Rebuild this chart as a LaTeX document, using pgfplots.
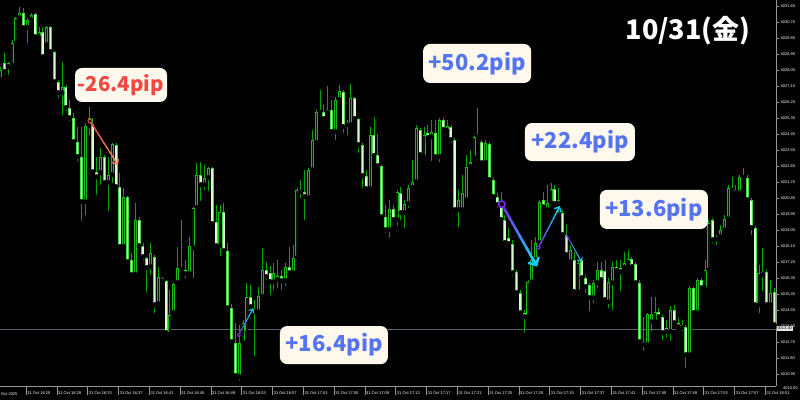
\documentclass[border=0pt]{standalone}
\usepackage{pgfplots}
\pgfplotsset{compat=1.18}
\usepackage{pgfplotstable}
\usepackage{fontspec}
\setmainfont{Liberation Sans}
\newfontfamily\cjk{Noto Sans CJK JP}
\usetikzlibrary{calc,arrows.meta}
\definecolor{wick}{RGB}{0,165,0}
\definecolor{bullline}{RGB}{25,185,25}
\definecolor{bullfill}{RGB}{0,28,0}
\definecolor{bearline}{RGB}{70,215,70}
\definecolor{bearfill}{RGB}{215,255,205}
\definecolor{pipred}{RGB}{242,72,68}
\definecolor{piporange}{RGB}{250,135,90}
\definecolor{pipblue}{RGB}{84,116,240}
\definecolor{boxfill}{RGB}{255,248,236}
\definecolor{apurple}{RGB}{120,40,220}
\definecolor{acyan}{RGB}{25,200,240}
\definecolor{framec}{RGB}{150,150,150}
\definecolor{bidline}{RGB}{90,95,110}

\pgfplotstableread{
k o h l c
0 4027.44 4028.17 4027.33 4028.00
1 4028.40 4028.96 4027.61 4027.89
2 4028.17 4028.45 4027.61 4028.40
3 4028.28 4029.69 4028.17 4029.52
4 4029.52 4030.98 4029.41 4030.93
5 4030.93 4031.55 4030.82 4031.21
6 4031.21 4031.49 4030.25 4030.37
7 4030.37 4030.93 4029.41 4030.82
8 4030.82 4031.21 4030.70 4031.10
9 4031.15 4031.21 4029.80 4029.86
10 4029.80 4030.42 4029.58 4030.14
11 4030.14 4030.42 4028.68 4028.73
12 4029.41 4030.45 4029.30 4030.42
13 4030.42 4030.45 4028.96 4029.02
14 4029.02 4029.05 4027.05 4027.33
15 4027.33 4027.44 4026.32 4026.71
16 4026.71 4028.45 4025.36 4027.05
17 4027.05 4027.16 4025.58 4025.87
18 4025.87 4026.32 4025.02 4025.30
19 4025.30 4025.58 4023.90 4023.95
20 4023.95 4024.80 4022.77 4023.11
21 4023.11 4024.80 4019.40 4020.58
22 4020.58 4025.02 4019.73 4024.85
23 4024.85 4025.92 4024.23 4025.30
24 4024.97 4025.30 4022.10 4022.26
25 4022.26 4023.11 4020.86 4021.98
26 4022.21 4023.62 4021.42 4023.11
27 4023.11 4023.22 4021.53 4021.65
28 4021.65 4023.11 4019.96 4022.10
29 4022.10 4023.90 4021.53 4023.84
30 4023.78 4023.90 4021.37 4021.42
31 4021.42 4022.21 4017.99 4018.05
32 4018.05 4021.37 4017.99 4020.86
33 4020.86 4020.90 4017.09 4017.20
34 4017.32 4017.71 4016.41 4016.47
35 4016.47 4020.52 4016.41 4019.57
36 4019.57 4019.73 4018.05 4018.10
37 4018.10 4018.27 4017.20 4017.48
38 4017.43 4017.48 4015.35 4016.87
39 4016.92 4018.27 4016.36 4017.71
40 4017.48 4017.60 4014.22 4014.78
41 4014.84 4016.92 4014.67 4016.36
42 4016.30 4016.36 4016.08 4016.13
43 4016.13 4016.19 4013.10 4013.21
44 4013.15 4015.63 4013.10 4014.22
45 4014.33 4016.02 4014.22 4015.97
46 4016.02 4018.05 4015.80 4016.87
47 4016.87 4019.57 4016.58 4016.75
48 4016.75 4017.32 4016.19 4016.53
49 4016.53 4018.61 4016.47 4018.10
50 4017.99 4020.29 4016.19 4020.24
51 4020.24 4022.77 4020.13 4022.10
52 4022.10 4022.83 4020.52 4021.53
53 4021.53 4022.66 4021.14 4021.93
54 4021.93 4022.55 4021.08 4022.49
55 4022.49 4022.55 4019.28 4019.34
56 4019.45 4020.41 4018.05 4018.10
57 4018.10 4020.41 4017.43 4020.02
58 4020.02 4020.52 4017.77 4017.82
59 4017.82 4018.27 4014.56 4014.61
60 4014.61 4014.84 4012.65 4012.70
61 4012.65 4013.77 4010.74 4010.79
62 4010.74 4013.66 4010.45 4012.65
63 4012.65 4013.94 4012.53 4013.77
64 4013.21 4016.02 4013.10 4015.24
65 4015.24 4015.91 4014.39 4014.67
66 4014.39 4015.07 4011.80 4014.56
67 4014.39 4015.80 4014.28 4015.29
68 4015.24 4017.99 4015.18 4016.75
69 4016.75 4017.20 4016.08 4016.36
70 4016.58 4016.98 4015.24 4016.08
71 4016.08 4017.15 4015.52 4016.58
72 4016.19 4017.32 4015.63 4016.41
73 4016.41 4016.75 4015.52 4016.13
74 4016.13 4017.15 4015.74 4016.92
75 4016.92 4018.05 4016.47 4016.58
76 4016.58 4018.16 4016.47 4017.43
77 4017.43 4021.37 4017.32 4021.25
78 4021.25 4021.82 4020.69 4021.14
79 4021.14 4022.38 4019.45 4020.86
80 4020.80 4022.49 4020.69 4022.38
81 4022.38 4024.63 4022.26 4024.07
82 4023.90 4025.75 4023.78 4025.64
83 4025.64 4026.88 4025.58 4025.70
84 4025.64 4026.03 4025.19 4025.25
85 4025.58 4027.10 4025.47 4025.75
86 4025.75 4026.32 4024.46 4024.52
87 4024.52 4026.49 4023.95 4026.32
88 4026.32 4027.16 4026.15 4026.82
89 4026.77 4026.88 4024.35 4024.80
90 4025.02 4025.19 4024.23 4024.91
91 4024.91 4027.22 4024.80 4026.43
92 4026.43 4026.49 4025.19 4025.25
93 4025.25 4025.30 4023.22 4023.78
94 4023.78 4023.90 4021.25 4022.04
95 4022.04 4022.38 4021.25 4021.31
96 4021.31 4024.80 4021.25 4024.35
97 4024.35 4025.36 4022.94 4023.17
98 4023.22 4024.40 4022.55 4022.60
99 4022.60 4022.66 4019.68 4019.73
100 4019.73 4020.41 4018.72 4019.00
101 4019.00 4020.69 4018.44 4020.18
102 4020.18 4020.41 4019.45 4019.57
103 4019.57 4021.25 4019.12 4021.14
104 4021.08 4021.42 4019.45 4019.96
105 4019.96 4020.69 4019.00 4020.47
106 4020.47 4021.53 4020.13 4021.37
107 4021.37 4022.94 4021.25 4021.70
108 4021.70 4024.91 4021.53 4024.74
109 4024.63 4024.74 4023.05 4023.22
110 4023.11 4024.80 4022.94 4024.35
111 4024.46 4024.91 4024.07 4024.18
112 4024.23 4025.19 4022.77 4024.52
113 4024.46 4025.19 4022.94 4023.11
114 4023.11 4025.30 4022.71 4025.19
115 4025.19 4025.30 4024.52 4024.63
116 4024.57 4025.19 4024.35 4024.85
117 4024.80 4024.91 4023.78 4024.07
118 4024.07 4024.18 4020.02 4020.13
119 4020.13 4021.25 4019.06 4020.69
120 4020.13 4022.10 4020.02 4021.08
121 4020.69 4023.22 4020.58 4022.55
122 4022.55 4023.50 4022.38 4022.83
123 4023.05 4024.29 4022.94 4024.23
124 4024.23 4025.87 4024.07 4024.35
125 4023.95 4024.07 4022.66 4022.77
126 4022.77 4024.07 4022.66 4023.90
127 4023.84 4023.95 4021.70 4021.82
128 4021.82 4021.93 4020.69 4020.86
129 4020.86 4021.08 4020.13 4020.41
130 4020.29 4021.14 4019.45 4019.57
131 4019.57 4019.85 4018.16 4018.27
132 4018.55 4019.12 4018.10 4018.22
133 4018.22 4018.44 4016.30 4016.58
134 4016.64 4016.75 4015.35 4015.46
135 4015.46 4015.63 4014.22 4014.33
136 4014.33 4014.50 4013.10 4014.11
137 4014.11 4016.19 4014.05 4016.08
138 4016.08 4018.44 4015.97 4017.32
139 4017.32 4018.61 4017.20 4018.27
140 4018.27 4020.69 4018.16 4020.58
141 4020.69 4021.14 4020.13 4020.29
142 4020.13 4021.53 4019.85 4020.52
143 4020.52 4021.65 4020.41 4021.31
144 4021.31 4021.53 4020.35 4020.47
145 4020.47 4021.37 4019.85 4020.69
146 4019.96 4020.13 4018.61 4018.72
147 4018.72 4019.28 4017.48 4017.60
148 4017.20 4018.16 4017.03 4017.88
149 4017.32 4017.77 4015.46 4015.52
150 4015.52 4017.32 4015.35 4017.15
151 4017.32 4017.43 4016.19 4016.30
152 4016.30 4016.47 4015.35 4015.80
153 4015.91 4016.02 4014.33 4015.18
154 4015.18 4016.19 4014.78 4016.02
155 4016.02 4017.20 4015.63 4016.75
156 4016.75 4017.20 4016.02 4016.19
157 4016.70 4017.32 4014.89 4015.07
158 4014.95 4016.30 4014.50 4016.08
159 4016.02 4017.20 4014.39 4016.92
160 4016.92 4017.32 4016.58 4016.70
161 4016.87 4017.32 4015.46 4016.64
162 4016.87 4017.77 4016.75 4017.15
163 4017.15 4017.88 4016.98 4017.37
164 4017.37 4017.48 4016.81 4016.92
165 4017.09 4017.20 4015.91 4016.02
166 4016.02 4016.19 4012.53 4012.70
167 4012.70 4014.11 4012.08 4012.53
168 4012.53 4014.33 4012.42 4014.28
169 4013.83 4015.24 4013.21 4014.28
170 4013.83 4015.24 4013.66 4014.39
171 4014.39 4014.61 4013.94 4014.11
172 4014.11 4014.22 4012.70 4013.21
173 4013.49 4013.94 4012.82 4013.27
174 4013.27 4014.73 4012.65 4014.50
175 4014.50 4014.78 4013.66 4013.77
176 4013.77 4014.05 4013.38 4013.55
177 4013.66 4013.94 4013.21 4013.49
178 4013.55 4013.66 4011.13 4011.97
179 4011.97 4015.85 4011.86 4015.74
180 4015.74 4015.80 4014.22 4014.33
181 4014.33 4016.30 4014.22 4016.19
182 4016.19 4016.30 4015.63 4015.74
183 4015.69 4017.32 4015.57 4016.75
184 4016.75 4019.57 4016.64 4019.40
185 4019.57 4019.68 4018.16 4018.44
186 4018.61 4018.72 4018.05 4018.50
187 4018.61 4019.28 4018.44 4019.00
188 4019.00 4019.85 4018.89 4019.62
189 4019.62 4021.53 4019.57 4021.37
190 4021.25 4021.98 4021.14 4021.31
191 4021.25 4021.53 4020.97 4021.08
192 4021.08 4022.10 4020.97 4021.98
193 4021.98 4022.49 4021.93 4022.04
194 4021.93 4022.10 4020.58 4020.69
195 4020.69 4020.80 4018.61 4019.12
196 4019.12 4019.23 4014.67 4014.78
197 4014.78 4017.03 4014.22 4016.58
198 4016.47 4017.99 4015.46 4016.64
199 4016.64 4016.75 4014.67 4014.78
200 4014.78 4016.19 4014.50 4015.46
201 4015.52 4015.74 4013.55 4013.66
}\candles

\newcommand\gradarrow[7]{%
  \foreach \i in {0,...,8}{%
    \pgfmathsetmacro\ta{\i/10}%
    \pgfmathsetmacro\tb{(\i+1)/10+0.02}%
    \pgfmathtruncatemacro\pc{100-\i*12.5}%
    \draw[line width=#3, color=#4!\pc!#5, line cap=round] ($(#1)!\ta!(#2)$) -- ($(#1)!\tb!(#2)$);
  }%
  \draw[line width=#3, color=#5, -{Straight Barb[length=#6,width=#7]}] ($(#1)!0.85!(#2)$) -- (#2);
}

\begin{document}
\begin{tikzpicture}[x=1pt,y=1pt]
\useasboundingbox (0,0) rectangle (800,400);
\fill[black] (0,0) rectangle (800,400);
\begin{axis}[
  at={(0pt,14pt)}, anchor=south west,
  scale only axis, width=776pt, height=386pt,
  xmin=-0.13, xmax=201.43, ymin=4010.2275, ymax=4031.94,
  axis x line*=bottom, axis y line*=right,
  axis line style={framec, line width=0.6pt},
  tick align=outside,
  every tick/.style={framec, line width=0.5pt},
  major tick length=3pt,
  ytick={4010.9,4011.8,4012.7,4013.6,4014.5,4015.4,4016.3,4017.2,4018.1,4019.0,4019.9,4020.8,4021.7,4022.6,4023.5,4024.4,4025.3,4026.2,4027.1,4028.0,4028.9,4029.8,4030.7,4031.6},
  yticklabels={4010.90,4011.80,4012.70,4013.60,4014.50,4015.40,4016.30,4017.20,4018.10,4019.00,4019.90,4020.80,4021.70,4022.60,4023.50,4024.40,4025.30,4026.20,4027.10,4028.00,4028.90,4029.80,4030.70,4031.60},
  yticklabel style={font=\fontsize{4}{4.5}\selectfont, text=white, anchor=west, inner sep=0pt, xshift=1.5pt},
  xtick={6.62,14.62,22.62,30.62,38.62,46.62,54.62,62.62,70.62,78.62,86.62,94.62,102.62,110.62,118.62,126.62,134.62,142.62,150.62,158.62,166.62,174.62,182.62,190.62,198.62},
  xticklabels={31 Oct 16:25,31 Oct 16:29,31 Oct 16:33,31 Oct 16:37,31 Oct 16:41,31 Oct 16:45,31 Oct 16:49,31 Oct 16:53,31 Oct 16:57,31 Oct 17:01,31 Oct 17:05,31 Oct 17:09,31 Oct 17:13,31 Oct 17:17,31 Oct 17:21,31 Oct 17:25,31 Oct 17:29,31 Oct 17:33,31 Oct 17:37,31 Oct 17:41,31 Oct 17:45,31 Oct 17:49,31 Oct 17:53,31 Oct 17:57,31 Oct 18:01},
  xticklabel style={font=\fontsize{4}{4.5}\selectfont, text=white, anchor=north west, inner sep=0pt, xshift=1.2pt, yshift=-2.5pt},
  xtick style={/pgfplots/major tick length=9pt},
]
% bid line
\addplot[bidline, line width=0.8pt, forget plot] coordinates {(-1,4013.40) (203,4013.40)};
% wicks
\addplot[only marks, mark=none, forget plot,
  error bars/.cd, y dir=plus, y explicit, error mark=none,
  error bar style={line width=0.9pt, color=wick}]
  table[x=k, y=l, y error expr=\thisrow{h}-\thisrow{l}] {\candles};
% bull bodies
\addplot[only marks, mark=none, forget plot,
  restrict expr to domain={\thisrow{c}-\thisrow{o}}{-0.001:100},
  error bars/.cd, y dir=plus, y explicit, error mark=none,
  error bar style={line width=3pt, color=bullline}]
  table[x=k, y=o, y error expr={max(\thisrow{c}-\thisrow{o},0.05)}] {\candles};
\addplot[only marks, mark=none, forget plot,
  restrict expr to domain={\thisrow{c}-\thisrow{o}}{0.12:100},
  error bars/.cd, y dir=plus, y explicit, error mark=none,
  error bar style={line width=1.2pt, color=bullfill}]
  table[x=k, y expr=\thisrow{o}+0.035, y error expr={\thisrow{c}-\thisrow{o}-0.07}] {\candles};
% bear bodies
\addplot[only marks, mark=none, forget plot,
  restrict expr to domain={\thisrow{o}-\thisrow{c}}{0.001:100},
  error bars/.cd, y dir=plus, y explicit, error mark=none,
  error bar style={line width=3pt, color=bearline}]
  table[x=k, y=c, y error expr={max(\thisrow{o}-\thisrow{c},0.05)}] {\candles};
\addplot[only marks, mark=none, forget plot,
  restrict expr to domain={\thisrow{o}-\thisrow{c}}{0.12:100},
  error bars/.cd, y dir=plus, y explicit, error mark=none,
  error bar style={line width=1.6pt, color=bearfill}]
  table[x=k, y expr=\thisrow{c}+0.035, y error expr={\thisrow{o}-\thisrow{c}-0.07}] {\candles};
% annotation anchors
\coordinate (a1s) at (axis cs:23.25,4025.13);
\coordinate (a1e) at (axis cs:30.52,4022.66);
\coordinate (a2s) at (axis cs:61.87,4013.10);
\coordinate (a2e) at (axis cs:65.66,4014.60);
\coordinate (a3s) at (axis cs:130.2,4020.45);
\coordinate (a3e) at (axis cs:139.4,4016.94);
\coordinate (a4s) at (axis cs:139.7,4018.01);
\coordinate (a4e) at (axis cs:145.3,4020.35);
\coordinate (a5s) at (axis cs:147.2,4018.67);
\coordinate (a5e) at (axis cs:150.96,4017.19);
\coordinate (b1) at (axis cs:31.3,4027.16);
\coordinate (b2) at (axis cs:86.6,4012.53);
\coordinate (b3) at (axis cs:123.8,4028.37);
\coordinate (b4) at (axis cs:150.5,4023.95);
\coordinate (b5) at (axis cs:169.7,4020.16);
\end{axis}
% arrows
\gradarrow{a1s}{a1e}{1.3pt}{pipred}{piporange}{4pt}{7pt}
\draw[pipred, line width=1pt, fill=black] (a1s) circle (2pt);
\gradarrow{a2s}{a2e}{1pt}{apurple}{acyan}{3.5pt}{6pt}
\draw[apurple, line width=0.9pt, fill=black] (a2s) circle (1.6pt);
\gradarrow{a3s}{a3e}{2.6pt}{apurple}{acyan}{6pt}{12pt}
\draw[apurple, line width=1.8pt, fill=black] (a3s) circle (3.2pt);
\gradarrow{a4s}{a4e}{1.4pt}{apurple}{acyan}{4pt}{8pt}
\draw[apurple, line width=1pt, fill=black] (a4s) circle (1.8pt);
\gradarrow{a5s}{a5e}{1pt}{apurple}{acyan}{3.5pt}{6pt}
\fill[apurple] (a5s) circle (1.4pt);
% labels
\tikzset{pipbox/.style={fill=boxfill, rounded corners=7pt, inner sep=0pt, font={\cjk\bfseries\fontsize{22}{24}\selectfont}}}
\node[pipbox, text=pipred, minimum width=92pt, minimum height=34pt, font={\cjk\bfseries\fontsize{20.5}{24}\selectfont}] at (b1) {-26.4pip};
\node[pipbox, text=pipblue, minimum width=108pt, minimum height=38pt] at (b2) {+16.4pip};
\node[pipbox, text=pipblue, minimum width=108pt, minimum height=39pt] at (b3) {+50.2pip};
\node[pipbox, text=pipblue, minimum width=110pt, minimum height=38pt] at (b4) {+22.4pip};
\node[pipbox, text=pipblue, minimum width=108pt, minimum height=39pt] at (b5) {+13.6pip};
\node[text=white, inner sep=0pt, font={\cjk\bfseries\fontsize{27}{30}\selectfont}] at (688,369) {10/31(金)};
% right price tag and extra labels
\node[anchor=west, fill=gray!20, text=black, inner sep=0.7pt, font=\fontsize{4}{4.5}\selectfont] at (776.6,71.4) {4013.40};
\node[anchor=west, text=white, inner sep=0pt, font=\fontsize{4}{4.5}\selectfont] at (783,12) {4010.00};
\node[anchor=west, text=white, inner sep=0pt, font=\fontsize{4}{4.5}\selectfont] at (1,5.5) {Oct 2025};
\end{tikzpicture}
\end{document}
